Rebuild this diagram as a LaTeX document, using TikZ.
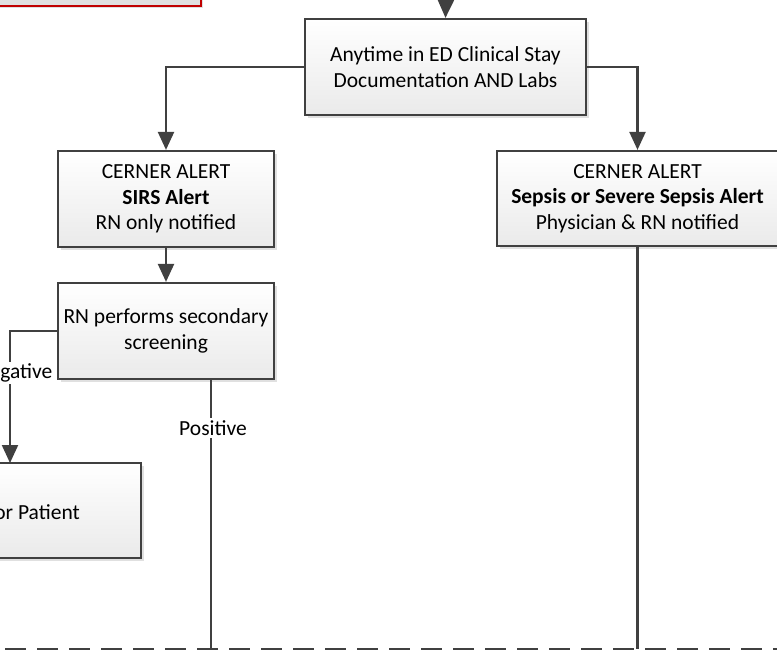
\documentclass[tikz,border=0pt]{standalone}
\usepackage{fontspec}
\setmainfont{Carlito}
\usetikzlibrary{arrows.meta,shadows}
\definecolor{linegray}{HTML}{404040}
\definecolor{boxbot}{HTML}{EAEAEA}
\definecolor{alertred}{HTML}{C00000}
\tikzset{
  flowbox/.style={draw=linegray,line width=2.2pt,top color=white,bottom color=boxbot,
    align=center,inner sep=0pt,font=\fontsize{21.5}{25.5}\selectfont,
    drop shadow={shadow xshift=3pt,shadow yshift=-3pt,fill=black,opacity=0.12}},
  conn/.style={draw=linegray,line width=2.2pt},
  arr/.style={conn,-{Triangle[width=16pt,length=18pt]}},
  lbl/.style={fill=white,inner sep=2pt,font=\fontsize{21.5}{25.5}\selectfont},
}
\begin{document}
\begin{tikzpicture}[x=1pt,y=-1pt]
\useasboundingbox (0,0) rectangle (777,650);
\begin{scope}
\clip (0,0) rectangle (777,650);
% red box at top-left (partially visible)
\node[draw=alertred,line width=2pt,minimum width=260pt,minimum height=60pt,inner sep=0pt,
  drop shadow={shadow xshift=2pt,shadow yshift=-2pt,fill=black,opacity=0.12}] (redbox) at (71,-24) {};
\coordinate (topin) at (446,-5);
\node[flowbox,minimum width=281pt,minimum height=96pt] (top) at (445.5,67)
  {Anytime in ED Clinical Stay\\Documentation AND Labs};
\node[flowbox,minimum width=216pt,minimum height=96pt] (sirs) at (166,199)
  {CERNER ALERT\\\textbf{SIRS Alert}\\RN only notified};
\node[flowbox,minimum width=281pt,minimum height=95pt] (sepsis) at (637.5,198.5)
  {CERNER ALERT\\\textbf{Sepsis or Severe Sepsis Alert}\\Physician \& RN notified};
\node[flowbox,minimum width=216pt,minimum height=96pt] (rn) at (166,331)
  {RN performs secondary\\screening};
\node[flowbox,minimum width=216pt,minimum height=95pt] (mon) at (33,510.5) {};
\node[anchor=east,inner sep=0pt,font=\fontsize{21.5}{25.5}\selectfont] (montext) at (80,512) {or Patient};
\coordinate (negcorner) at (10,331);
\coordinate (negend) at (10,463);
\coordinate (posend) at (211,649);
\coordinate (sepend) at (637.5,649);
\coordinate (dashL) at (-27,649);
\coordinate (dashR) at (777,649);

\draw[arr] (topin) -- (top.north);
\draw[arr] (top.west) -| (sirs.north);
\draw[arr] (top.east) -| (sepsis.north);
\draw[arr] (sirs.south) -- (rn.north);
\draw[arr] (rn.west) -- (negcorner) -- (negend);
\draw[conn] (rn.south -| posend) -- (posend);
\draw[conn] (sepsis.south) -- (sepend);
\node[lbl] (neglbl) at (14,373) {Negative};
\node[lbl] (poslbl) at (213,428) {Positive};
\draw[conn,dash pattern=on 21pt off 11pt] (dashL) -- (dashR);
\end{scope}
\end{tikzpicture}
\end{document}
